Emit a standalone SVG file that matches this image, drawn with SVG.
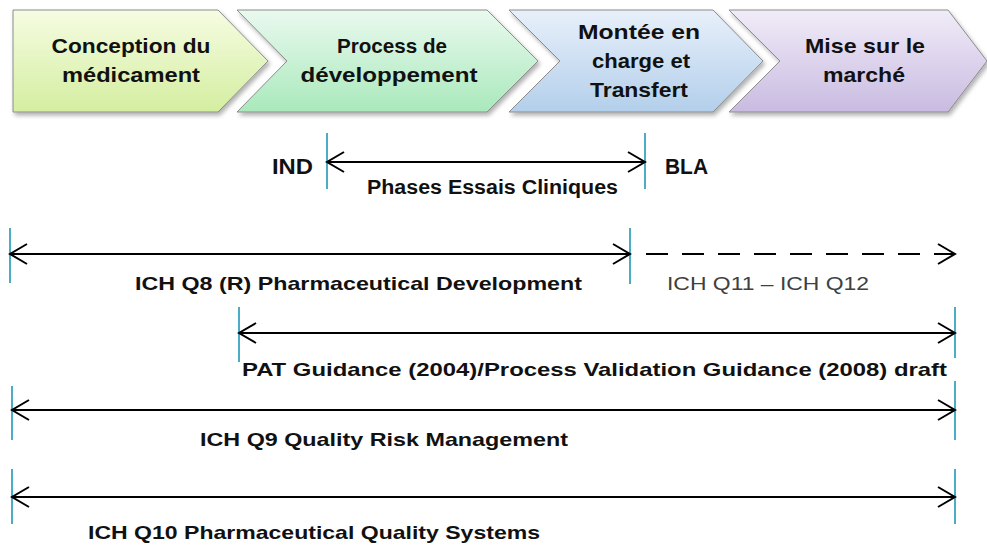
<svg xmlns="http://www.w3.org/2000/svg" width="987" height="548" viewBox="0 0 987 548">
  <defs>
    <linearGradient id="g1" x1="0" y1="0" x2="0" y2="1">
      <stop offset="0" stop-color="#f6fce2"/>
      <stop offset="1" stop-color="#d4eea0"/>
    </linearGradient>
    <linearGradient id="g2" x1="0" y1="0" x2="0" y2="1">
      <stop offset="0" stop-color="#eaf9ef"/>
      <stop offset="1" stop-color="#a9e9bb"/>
    </linearGradient>
    <linearGradient id="g3" x1="0" y1="0" x2="0" y2="1">
      <stop offset="0" stop-color="#e8f0fa"/>
      <stop offset="1" stop-color="#b3cfeb"/>
    </linearGradient>
    <linearGradient id="g4" x1="0" y1="0" x2="0" y2="1">
      <stop offset="0" stop-color="#f1ecf8"/>
      <stop offset="1" stop-color="#c9bbe1"/>
    </linearGradient>
    <filter id="sh" x="-5%" y="-10%" width="115%" height="130%">
      <feDropShadow dx="2" dy="3" stdDeviation="2" flood-color="#000" flood-opacity="0.3"/>
    </filter>
    <marker id="ah" markerUnits="userSpaceOnUse" markerWidth="24" markerHeight="26" viewBox="-20 -13 24 26" refX="0" refY="0" orient="auto-start-reverse">
      <path d="M-17,-10 L0,0 L-17,10" fill="none" stroke="#000" stroke-width="2"/>
    </marker>
  </defs>
  <style>
    .chev { stroke: #8c8c8c; stroke-width: 1; filter: url(#sh); }
    .ct { font-family: "Liberation Sans", Arial, sans-serif; font-weight: bold; font-size: 21px; fill: #111; text-anchor: middle; }
    .lb { font-family: "Liberation Sans", Arial, sans-serif; font-weight: bold; font-size: 19px; fill: #111; }
    .big { font-size: 22px; }
    .mid { font-size: 20px; }
    .lr { font-family: "Liberation Sans", Arial, sans-serif; font-weight: normal; font-size: 19px; fill: #404040; }
    .tick { stroke: #4bacc6; stroke-width: 2; }
    .arr { stroke: #000; stroke-width: 2; fill: none; marker-start: url(#ah); marker-end: url(#ah); }
    .dash { stroke: #000; stroke-width: 2; fill: none; stroke-dasharray: 22 14; marker-end: url(#ah); }
  </style>

  <g id="phase1">
    <polygon class="chev" fill="url(#g1)" points="13,10 218,10 268,61 218,112 13,112"/>
    <text class="ct" x="131" y="53" textLength="159" lengthAdjust="spacingAndGlyphs">Conception du</text>
    <text class="ct" x="131" y="82" textLength="138" lengthAdjust="spacingAndGlyphs">médicament</text>
  </g>
  <g id="phase2">
    <polygon class="chev" fill="url(#g2)" points="237,10 487,10 538,61 487,112 237,112 287,61"/>
    <text class="ct" x="392" y="53" textLength="110" lengthAdjust="spacingAndGlyphs">Process de</text>
    <text class="ct" x="389" y="82" textLength="177" lengthAdjust="spacingAndGlyphs">développement</text>
  </g>
  <g id="phase3">
    <polygon class="chev" fill="url(#g3)" points="509,10 713,10 763,61 713,112 509,112 560,61"/>
    <text class="ct" x="639" y="39" textLength="122" lengthAdjust="spacingAndGlyphs">Montée en</text>
    <text class="ct" x="641" y="68" textLength="98" lengthAdjust="spacingAndGlyphs">charge et</text>
    <text class="ct" x="639" y="97" textLength="98" lengthAdjust="spacingAndGlyphs">Transfert</text>
  </g>
  <g id="phase4">
    <polygon class="chev" fill="url(#g4)" points="729,10 948,10 987,61 948,112 729,112 780,61"/>
    <text class="ct" x="865" y="53" textLength="120" lengthAdjust="spacingAndGlyphs">Mise sur le</text>
    <text class="ct" x="864" y="82" textLength="82" lengthAdjust="spacingAndGlyphs">marché</text>
  </g>

  <g id="ticks">
    <line class="tick" x1="327" y1="133" x2="327" y2="189"/>
    <line class="tick" x1="645" y1="133" x2="645" y2="189"/>
    <line class="tick" x1="10" y1="228" x2="10" y2="283"/>
    <line class="tick" x1="630" y1="228" x2="630" y2="284"/>
    <line class="tick" x1="239" y1="307" x2="239" y2="362"/>
    <line class="tick" x1="955" y1="307" x2="955" y2="358"/>
    <line class="tick" x1="955" y1="381" x2="955" y2="392"/>
    <line class="tick" x1="12" y1="386" x2="12" y2="440"/>
    <line class="tick" x1="955" y1="386" x2="955" y2="440"/>
    <line class="tick" x1="12" y1="469" x2="12" y2="524"/>
    <line class="tick" x1="955" y1="469" x2="955" y2="524"/>
  </g>

  <g id="connectors">
    <line class="arr" x1="327" y1="162" x2="645" y2="162"/>
    <line class="arr" x1="10" y1="254" x2="630" y2="254"/>
    <line class="dash" x1="646" y1="254" x2="955" y2="254"/>
    <line class="arr" x1="239" y1="333" x2="955" y2="333"/>
    <line class="arr" x1="12" y1="410" x2="955" y2="410"/>
    <line class="arr" x1="12" y1="497" x2="955" y2="497"/>
  </g>

  <g id="labels">
    <text class="lb big" x="272" y="174" textLength="41" lengthAdjust="spacingAndGlyphs">IND</text>
    <text class="lb big" x="665" y="174" textLength="43" lengthAdjust="spacingAndGlyphs">BLA</text>
    <text class="lb mid" x="367" y="194" textLength="251" lengthAdjust="spacingAndGlyphs">Phases Essais  Cliniques</text>
    <text class="lb" x="135" y="290" textLength="447" lengthAdjust="spacingAndGlyphs">ICH Q8 (R) Pharmaceutical Development</text>
    <text class="lr" x="667" y="290" textLength="202" lengthAdjust="spacingAndGlyphs">ICH Q11 – ICH Q12</text>
    <text class="lb" x="242" y="376" textLength="705" lengthAdjust="spacingAndGlyphs">PAT Guidance (2004)/Process Validation Guidance (2008) draft</text>
    <text class="lb" x="200" y="446" textLength="368" lengthAdjust="spacingAndGlyphs">ICH Q9 Quality Risk Management</text>
    <text class="lb" x="88" y="539" textLength="452" lengthAdjust="spacingAndGlyphs">ICH Q10 Pharmaceutical Quality Systems</text>
  </g>
</svg>
